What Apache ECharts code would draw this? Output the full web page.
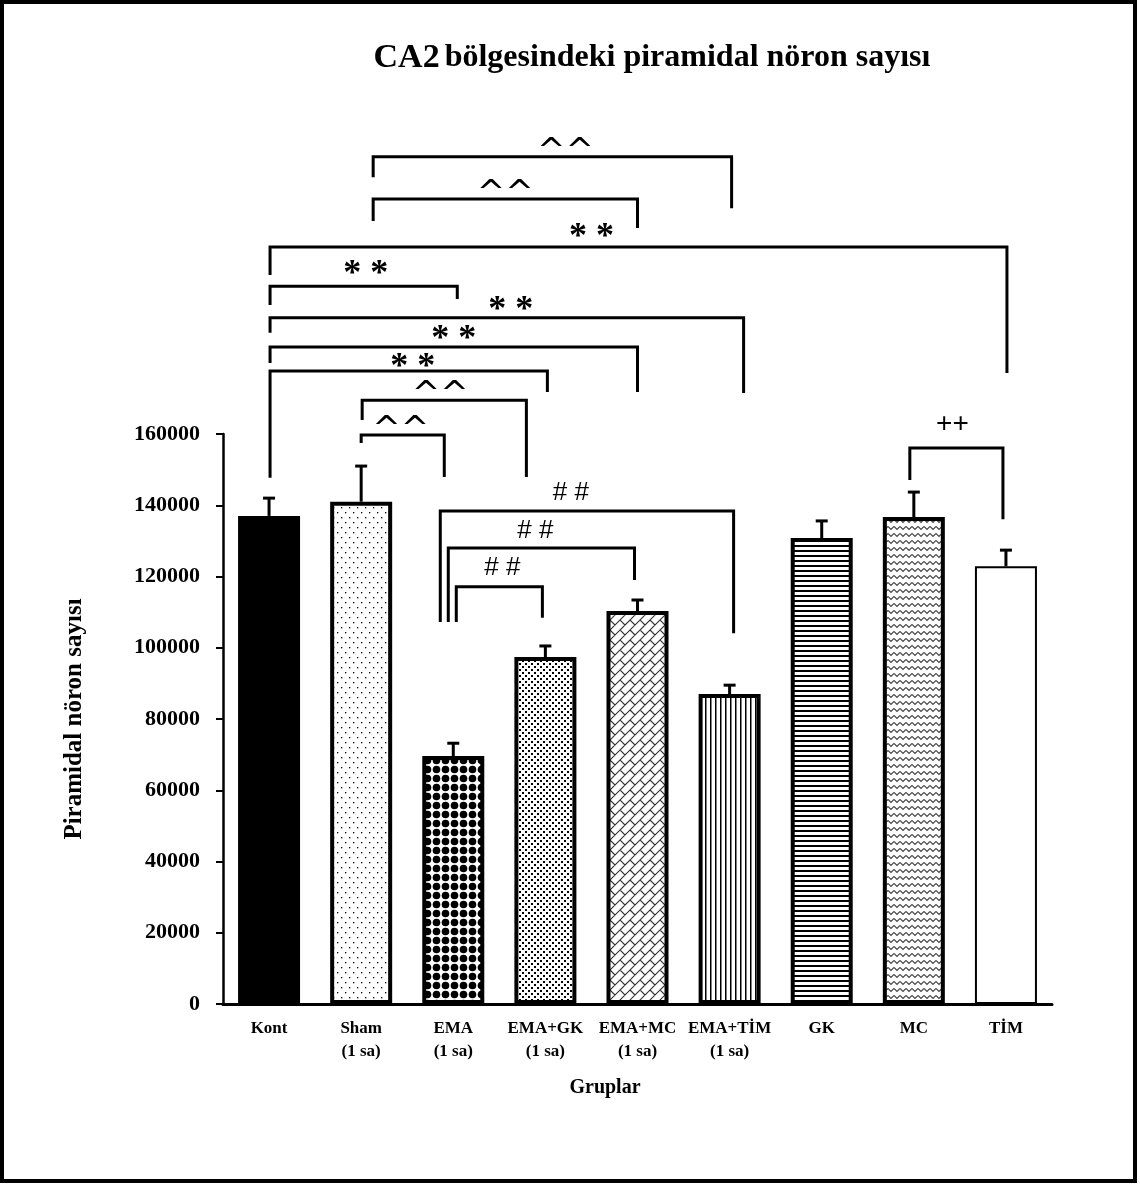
<!DOCTYPE html>
<html lang="tr">
<head>
    <meta charset="UTF-8">
    <title>CA2 bölgesindeki piramidal nöron sayısı</title>
    <script src="https://cdn.jsdelivr.net/npm/echarts@6/dist/echarts.min.js"></script>
    <style>
        html, body, #chart {
            width: 100%;
            height: 100%;
            margin: 0;
            padding: 0;
            background: #fff;
        }
        body {
            overflow: hidden;
        }
    </style>
</head>
<body>
    <div id="chart"></div>
    <script>
        // gruplar
        const groups = ['Kont', 'Sham\n(1 sa)', 'EMA\n(1 sa)', 'EMA+GK\n(1 sa)', 'EMA+MC\n(1 sa)', 'EMA+TİM\n(1 sa)', 'GK', 'MC', 'TİM'];
        // ortalama piramidal nöron sayısı
        const means = [137000, 141000, 69600, 97400, 110300, 87000, 130800, 136700, 122900];
        // standart hata (sadece üst çubuk)
        const sems = [5000, 10000, 3600, 3100, 3100, 2500, 4800, 7000, 4500];

        // anlamlılık çizgileri: hangi gruptan hangi gruba, yükseklikler (eksen birimi)
        const bracketFrom = [1, 1, 0, 0, 0, 0, 0, 1, 1, 2, 2, 2, 7];
        const bracketTo = [5, 4, 8, 2, 5, 4, 3, 3, 2, 5, 4, 3, 8];
        const bracketLevel = [237800, 226000, 212500, 201500, 192600, 184400, 177700, 169500, 159700, 138400, 128000, 117100, 156100];
        const bracketLeftEnd = [232100, 219800, 204600, 196200, 188400, 179900, 147700, 163900, 157500, 107200, 107200, 107200, 147100];
        const bracketRightEnd = [223400, 217800, 177100, 197900, 171500, 171800, 171800, 147900, 147900, 104100, 119000, 108400, 136100];
        const bracketMarks = ['^^', '^^', '* *', '* *', '* *', '* *', '* *', '^^', '^^', '# #', '# #', '# #', '++'];

        // küçük piksel kaydırmaları (sol bacak, sağ bacak, etiket x, etiket yüksekliği)
        const bracketNudge = [
            [12, 2, 13, 14], [12, 0, 0, 14], [1, 1, -47, 16], [1, 4, 2, 18], [1, 14, 4, 14],
            [1, 0, 0, 14], [1, 2, 4, 10], [1, -19, -4, 14], [0, -9, -2, 14], [-13, 4, -16, 19],
            [-5, -3, -6, 18], [3, -3, 3, 20], [-4, -3, -4, 25]
        ];
        const markStyle = {
            '*': { font: 'bold 36px "Liberation Serif"', dy: 7 },
            '^': { font: '34px "DejaVu Sans"', dy: 10 },
            '#': { font: '26px "Liberation Sans"', dy: 1 },
            '+': { font: '28px "Liberation Sans"', dy: 1 }
        };

        // desen dokuları
        function tile(w, h, draw) {
            const c = document.createElement('canvas');
            c.width = w;
            c.height = h;
            const ctx = c.getContext('2d');
            ctx.fillStyle = '#fff';
            ctx.fillRect(0, 0, w, h);
            ctx.fillStyle = '#000';
            ctx.strokeStyle = '#000';
            draw(ctx);
            return { image: c, repeat: 'repeat' };
        }

        const fills = [
            '#000',
            tile(8, 10, ctx => { ctx.fillRect(1, 2, 1.3, 1.3); ctx.fillRect(5, 7, 1.3, 1.3); }),
            tile(9, 9, ctx => { ctx.beginPath(); ctx.arc(4.5, 4.5, 3.8, 0, Math.PI * 2); ctx.fill(); }),
            tile(6, 6, ctx => { ctx.fillRect(0, 0, 2, 2); ctx.fillRect(3, 3, 2, 2); }),
            tile(20, 20, ctx => {
                ctx.strokeStyle = '#333';
                ctx.lineWidth = 1.1;
                ctx.beginPath();
                for (let s = 0; s <= 40; s += 10) {
                    ctx.moveTo(s, 0);
                    ctx.lineTo(0, s);
                }
                for (let k = -1; k <= 4; k++) {
                    for (let m = -3; m <= 3; m++) {
                        const t = (((k % 2) + 2) % 2) * 10 + 20 * m;
                        const s1 = 10 * k, s2 = 10 * k + 10;
                        ctx.moveTo((s1 + t) / 2, (s1 - t) / 2);
                        ctx.lineTo((s2 + t) / 2, (s2 - t) / 2);
                    }
                }
                ctx.stroke();
            }),
            tile(5, 2, ctx => { ctx.fillRect(0, 0, 1.5, 2); }),
            tile(2, 5, ctx => { ctx.fillRect(0, 0, 2, 2); }),
            tile(6, 7, ctx => {
                ctx.strokeStyle = '#444';
                ctx.lineWidth = 1.2;
                ctx.beginPath();
                ctx.moveTo(0, 1.5);
                ctx.lineTo(3, 4.5);
                ctx.lineTo(6, 1.5);
                ctx.stroke();
            }),
            '#fff'
        ];

        const serif = '"Liberation Serif", "Times New Roman", serif';
        const chart = echarts.init(document.getElementById('chart'));

        const option = {
            backgroundColor: '#fff',
            animation: false,
            title: {
                text: '{a|CA2} {b|bölgesindeki piramidal nöron sayısı}',
                left: 647,
                top: 36,
                textAlign: 'center',
                textStyle: {
                    rich: {
                        a: { fontFamily: serif, fontWeight: 'bold', fontSize: 34, color: '#000' },
                        b: { fontFamily: serif, fontWeight: 'bold', fontSize: 32, color: '#000' }
                    }
                }
            },
            grid: { left: 223, right: 88, top: 434, bottom: 182 },
            xAxis: {
                type: 'category',
                data: groups,
                axisLine: { lineStyle: { color: '#000', width: 3 } },
                axisTick: { show: false },
                axisLabel: {
                    interval: 0,
                    margin: 13,
                    color: '#000',
                    fontFamily: serif,
                    fontWeight: 'bold',
                    fontSize: 17,
                    lineHeight: 23
                }
            },
            yAxis: {
                type: 'value',
                min: 0,
                max: 160000,
                interval: 20000,
                name: 'Piramidal nöron sayısı',
                nameLocation: 'middle',
                nameGap: 136,
                nameTextStyle: { color: '#000', fontFamily: serif, fontWeight: 'bold', fontSize: 25 },
                splitLine: { show: false },
                axisLine: { show: true, lineStyle: { color: '#000', width: 2.5 } },
                axisTick: { show: true, length: 7, lineStyle: { color: '#000', width: 2 } },
                axisLabel: {
                    margin: 23,
                    color: '#000',
                    fontFamily: serif,
                    fontWeight: 'bold',
                    fontSize: 22,
                    formatter: v => String(v)
                }
            },
            graphic: [
                {
                    type: 'rect',
                    shape: { x: 2, y: 2, width: 1133, height: 1179 },
                    style: { fill: null, stroke: '#000', lineWidth: 4 },
                    silent: true
                },
                {
                    type: 'text',
                    x: 605,
                    y: 1088,
                    style: {
                        text: 'Gruplar',
                        font: 'bold 20px ' + serif,
                        fill: '#000',
                        textAlign: 'center',
                        textVerticalAlign: 'middle'
                    }
                }
            ],
            series: [
                {
                    type: 'bar',
                    barWidth: 62,
                    data: means.map((v, i) => ({
                        value: v,
                        itemStyle: { color: fills[i], borderColor: '#000', borderWidth: i === 8 ? 2 : 4 }
                    })),
                    z: 3
                },
                {
                    // hata çubukları
                    type: 'custom',
                    z: 2,
                    data: means.map((v, i) => [i, v, v + sems[i]]),
                    encode: { x: 0, y: [1, 2] },
                    renderItem: function (params, api) {
                        const base = api.coord([api.value(0), api.value(1)]);
                        const top = api.coord([api.value(0), api.value(2)]);
                        const st = { stroke: '#000', lineWidth: 3 };
                        return {
                            type: 'group',
                            children: [
                                { type: 'line', shape: { x1: base[0], y1: base[1], x2: base[0], y2: top[1] }, style: st },
                                { type: 'line', shape: { x1: base[0] - 6, y1: top[1], x2: base[0] + 6, y2: top[1] }, style: st }
                            ]
                        };
                    }
                },
                {
                    // anlamlılık çizgileri
                    type: 'custom',
                    z: 4,
                    clip: false,
                    data: bracketFrom.map((f, i) => [f, bracketTo[i], bracketLevel[i], bracketLeftEnd[i], bracketRightEnd[i]]),
                    encode: { x: [0, 1], y: [2, 3, 4] },
                    renderItem: function (params, api) {
                        const idx = params.dataIndex;
                        const n = bracketNudge[idx];
                        const pL = api.coord([api.value(0), api.value(2)]);
                        const pR = api.coord([api.value(1), api.value(2)]);
                        const yL = api.coord([api.value(0), api.value(3)])[1];
                        const yR = api.coord([api.value(1), api.value(4)])[1];
                        const xL = pL[0] + n[0];
                        const xR = pR[0] + n[1];
                        const y = pL[1];
                        const mark = bracketMarks[idx];
                        const ms = markStyle[mark[0]];
                        return {
                            type: 'group',
                            children: [
                                {
                                    type: 'polyline',
                                    shape: { points: [[xL, yL], [xL, y], [xR, y], [xR, yR]] },
                                    style: { stroke: '#000', lineWidth: 3, fill: null, lineJoin: 'miter' }
                                },
                                {
                                    type: 'text',
                                    x: (xL + xR) / 2 + n[2],
                                    y: y - n[3] + ms.dy,
                                    style: {
                                        text: mark,
                                        font: ms.font,
                                        fill: '#000',
                                        textAlign: 'center',
                                        textVerticalAlign: 'middle'
                                    }
                                }
                            ]
                        };
                    }
                }
            ]
        };

        chart.setOption(option);
        window.addEventListener('resize', function () {
            chart.resize();
        });
    </script>
</body>
</html>
